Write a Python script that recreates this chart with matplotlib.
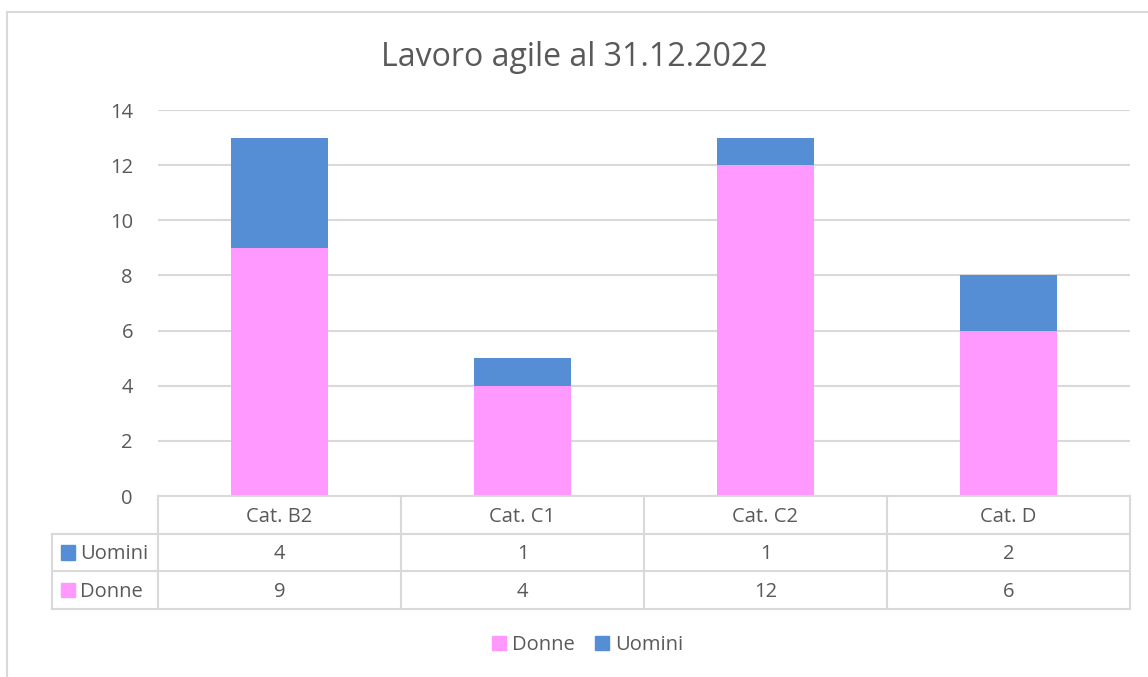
import matplotlib.pyplot as plt
from matplotlib.lines import Line2D
from matplotlib.patches import Rectangle

categories = ["Cat. B2", "Cat. C1", "Cat. C2", "Cat. D"]
donne = [9, 4, 12, 6]
uomini = [4, 1, 1, 2]
yticks = [0, 2, 4, 6, 8, 10, 12, 14]

PINK = "#FF99FF"
BLUE = "#558ED5"
GRID = "#D9D9D9"
TEXT = "#595959"
FONT = "Open Sans"

W, H = 1148, 677
fig = plt.figure(figsize=(W / 100, H / 100), dpi=100)
plt.rcParams["font.family"] = FONT


def fx(px):
    return px / W


def fy(py):
    return 1 - py / H


# outer chart frame (only left and top edges are visible)
fig.add_artist(Line2D([fx(6.5), fx(6.5)], [fy(11.5), 0], color=GRID, lw=1.5))
fig.add_artist(Line2D([fx(6.5), 1], [fy(11.5), fy(11.5)], color=GRID, lw=1.5))

# plot area
left, right, top, zero = 158, 1130, 110, 496
ax = fig.add_axes([fx(left), fy(zero), fx(right - left), (zero - top) / H])
x = list(range(len(categories)))
ax.bar(x, donne, width=0.4, color=PINK, zorder=3)
ax.bar(x, uomini, width=0.4, bottom=donne, color=BLUE, zorder=3)
ax.set_xlim(-0.5, len(categories) - 0.5)
ax.set_ylim(0, 14)
ax.set_yticks(yticks)
ax.set_xticks([])
tsize = 14.5
ax.tick_params(axis="y", length=0, pad=18, labelsize=tsize, labelcolor=TEXT)
ax.grid(axis="y", color=GRID, lw=1.5, zorder=0)
for s in ax.spines.values():
    s.set_visible(False)

fig.text(0.5, fy(57), "Lavoro agile al 31.12.2022", ha="center", va="center",
         fontsize=23, color=TEXT)

# data table under the plot
tab_bottom = 609
tax = fig.add_axes([fx(left), fy(tab_bottom), fx(right - left), (tab_bottom - zero) / H])
tax.set_xlim(ax.get_xlim())
tax.set_ylim(3, 0)
tax.axis("off")
lbl_left = -0.5 - (left - 52) / ((right - left) / len(categories))
kw = dict(color=GRID, lw=1.5, clip_on=False)
tax.plot([-0.5, 3.5], [0, 0], **kw)
for r in (1, 2, 3):
    tax.plot([lbl_left, 3.5], [r, r], **kw)
tax.plot([lbl_left, lbl_left], [1, 3], **kw)
for c in range(len(categories) + 1):
    tax.plot([c - 0.5, c - 0.5], [0, 3], **kw)

dy = 0.05
for i, cat in enumerate(categories):
    tax.text(i, 0.5 + dy, cat, ha="center", va="center", fontsize=tsize, color=TEXT)
    tax.text(i, 1.5 + dy, str(uomini[i]), ha="center", va="center", fontsize=tsize, color=TEXT)
    tax.text(i, 2.5 + dy, str(donne[i]), ha="center", va="center", fontsize=tsize, color=TEXT)

unit = (right - left) / len(categories)
for row, name, col in ((1.5, "Uomini", BLUE), (2.5, "Donne", PINK)):
    tax.add_patch(Rectangle((lbl_left + 9 / unit, row - 0.19), 14 / unit, 0.38,
                            color=col, clip_on=False))
    tax.text(lbl_left + 28 / unit, row + dy, name, ha="left", va="center",
             fontsize=tsize, color=TEXT)

# legend
handles = [Rectangle((0, 0), 1, 1, color=PINK), Rectangle((0, 0), 1, 1, color=BLUE)]
fig.legend(handles, ["Donne", "Uomini"], loc="center", bbox_to_anchor=(fx(588), fy(645)),
           ncol=2, frameon=False, fontsize=tsize, handlelength=0.7, handleheight=0.7,
           handletextpad=0.3, columnspacing=1.0, labelcolor=TEXT)

fig.savefig("out.png", dpi=100)
